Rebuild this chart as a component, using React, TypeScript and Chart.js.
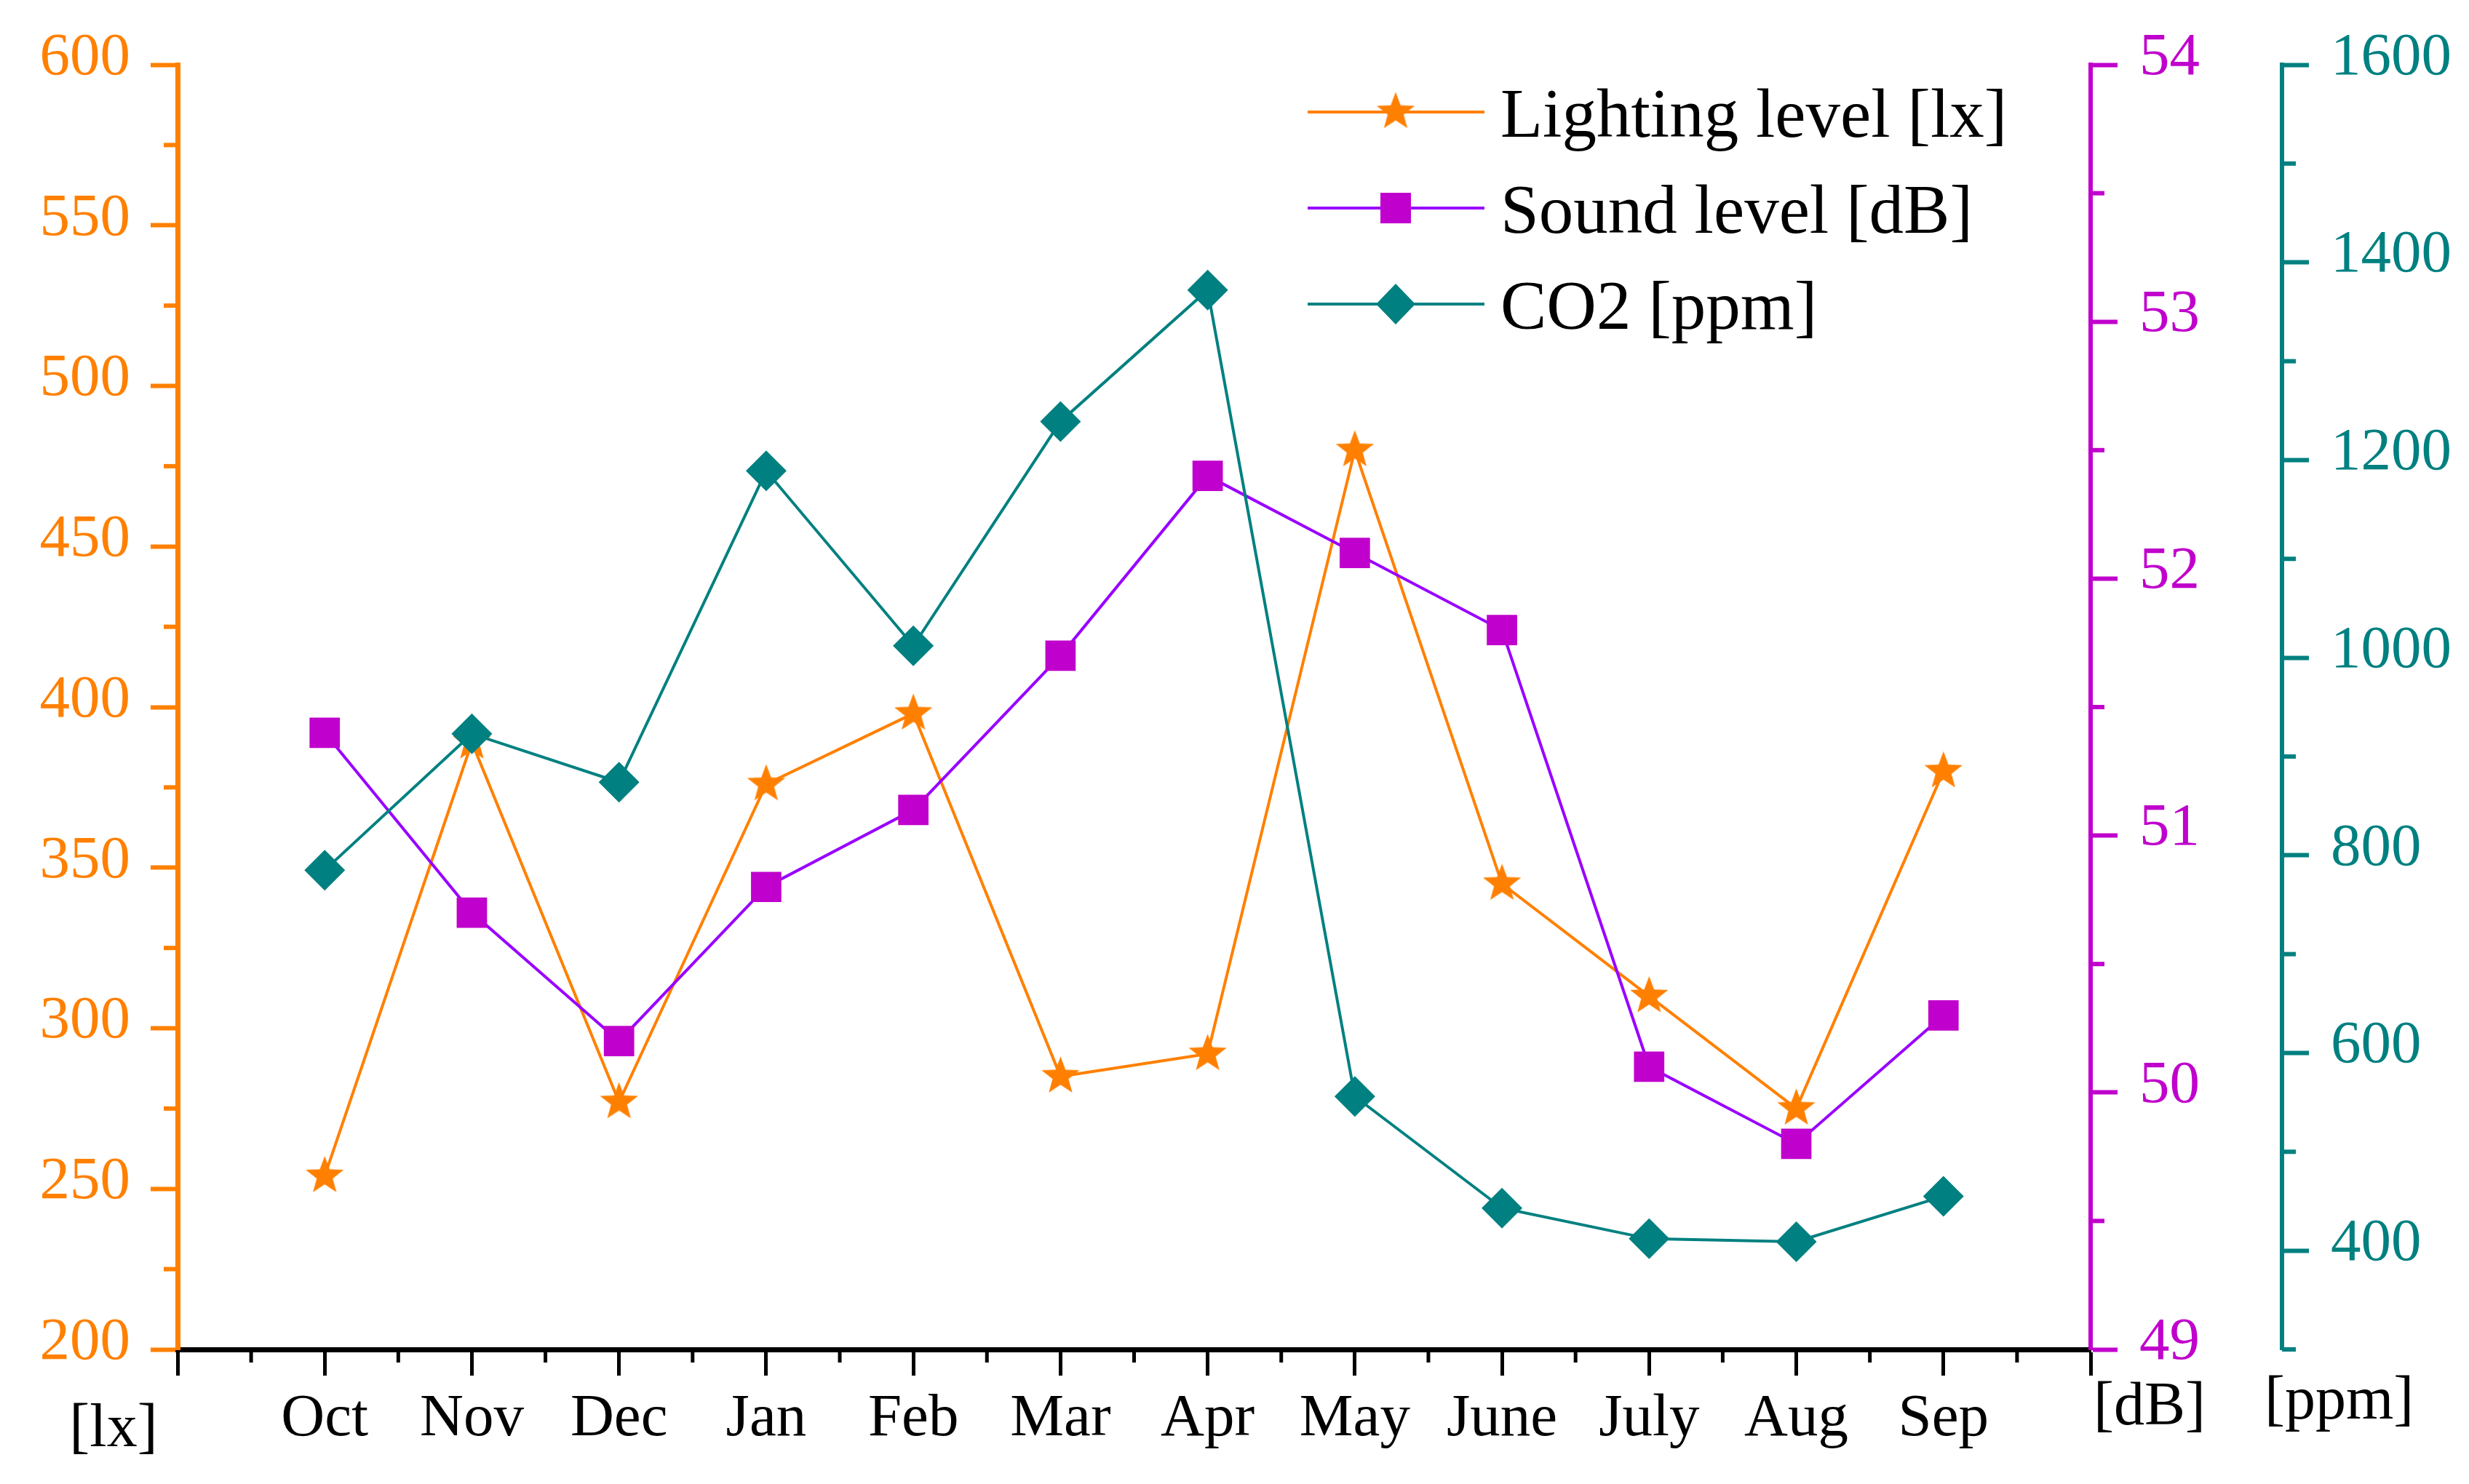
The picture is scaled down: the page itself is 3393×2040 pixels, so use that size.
import React, { useEffect, useRef } from 'react';
import { Chart, registerables } from 'chart.js';

Chart.register(...registerables);

const months = ['Oct', 'Nov', 'Dec', 'Jan', 'Feb', 'Mar', 'Apr', 'May', 'June', 'July', 'Aug', 'Sep'];
const lighting = [254, 389, 277, 376, 398, 285, 292, 480, 345, 310, 275, 380];
const sound = [51.4, 50.7, 50.2, 50.8, 51.1, 51.7, 52.4, 52.1, 51.8, 50.1, 49.8, 50.3];
const co2 = [785, 923, 874, 1189, 1012, 1239, 1372, 556, 443, 412, 409, 455];
const seriesLabels = ['Lighting level [lx]', 'Sound level [dB]', 'CO2 [ppm]'];
const unitLabels = ['[lx]', '[dB]', '[ppm]'];

const xTicks = [-1, 0, 1, 2, 3, 4, 5, 6, 7, 8, 9, 10, 11, 12];
const xMinor = [-0.5, 0.5, 1.5, 2.5, 3.5, 4.5, 5.5, 6.5, 7.5, 8.5, 9.5, 10.5, 11.5];
const lightingTicks = [200, 250, 300, 350, 400, 450, 500, 550, 600];
const lightingMinor = [225, 275, 325, 375, 425, 475, 525, 575];
const soundTicks = [49, 50, 51, 52, 53, 54];
const soundMinor = [49.5, 50.5, 51.5, 52.5, 53.5];
const co2Ticks = [400, 600, 800, 1000, 1200, 1400, 1600];
const co2Minor = [300, 500, 700, 900, 1100, 1300, 1500];

const ORANGE = '#FF8000';
const VIOLET = '#9900FF';
const MAGENTA = '#C000CC';
const TEAL = '#008080';
const FONT = "'Liberation Serif', 'Times New Roman', serif";

function makeStar(R: number, inner: number, color: string): HTMLCanvasElement {
  const size = Math.ceil(R * 2 + 4);
  const c = document.createElement('canvas');
  c.width = size;
  c.height = size;
  const ctx = c.getContext('2d')!;
  ctx.translate(size / 2, size / 2);
  ctx.beginPath();
  for (let i = 0; i < 10; i++) {
    const r = i % 2 === 0 ? R : R * inner;
    const a = -Math.PI / 2 + (i * Math.PI) / 5;
    const px = Math.cos(a) * r;
    const py = Math.sin(a) * r;
    if (i === 0) ctx.moveTo(px, py);
    else ctx.lineTo(px, py);
  }
  ctx.closePath();
  ctx.fillStyle = color;
  ctx.fill();
  return c;
}

export default function App() {
  const ref = useRef<HTMLCanvasElement | null>(null);

  useEffect(() => {
    if (!ref.current) return;
    const star = makeStar(27.5, 0.42, ORANGE);

    const extras = {
      id: 'extras',
      afterDraw(chart: any) {
        const ctx = chart.ctx as CanvasRenderingContext2D;
        const area = chart.chartArea;
        const sx = chart.scales.x;
        const sy = chart.scales.y;
        const sy1 = chart.scales.y1;
        const sy2 = chart.scales.y2;
        ctx.save();
        // minor ticks
        ctx.lineCap = 'butt';
        ctx.strokeStyle = '#000';
        ctx.lineWidth = 5;
        xMinor.forEach((v) => {
          const px = sx.getPixelForValue(v);
          ctx.beginPath();
          ctx.moveTo(px, area.bottom);
          ctx.lineTo(px, area.bottom + 18);
          ctx.stroke();
        });
        ctx.lineWidth = 6;
        ctx.strokeStyle = ORANGE;
        lightingMinor.forEach((v) => {
          const py = sy.getPixelForValue(v);
          ctx.beginPath();
          ctx.moveTo(area.left, py);
          ctx.lineTo(area.left - 19, py);
          ctx.stroke();
        });
        ctx.strokeStyle = MAGENTA;
        soundMinor.forEach((v) => {
          const py = sy1.getPixelForValue(v);
          ctx.beginPath();
          ctx.moveTo(sy1.left, py);
          ctx.lineTo(sy1.left + 19, py);
          ctx.stroke();
        });
        ctx.strokeStyle = TEAL;
        co2Minor.forEach((v) => {
          const py = sy2.getPixelForValue(v);
          ctx.beginPath();
          ctx.moveTo(sy2.left, py);
          ctx.lineTo(sy2.left + 19, py);
          ctx.stroke();
        });

        // unit labels
        ctx.fillStyle = '#000';
        ctx.font = `84px ${FONT}`;
        ctx.textBaseline = 'alphabetic';
        ctx.textAlign = 'center';
        ctx.fillText(unitLabels[0], area.left - 88, area.bottom + 133);
        ctx.textAlign = 'left';
        ctx.fillText(unitLabels[1], sy1.left + 4, area.bottom + 103);
        ctx.fillText(unitLabels[2], sy2.left - 24, area.bottom + 95);

        // legend
        const lineColors = [ORANGE, VIOLET, TEAL];
        const x0 = area.left + 1553;
        const x1 = x0 + 243;
        const xm = x0 + 121;
        ctx.font = `95px ${FONT}`;
        seriesLabels.forEach((label, i) => {
          const cy = area.top + 65 + i * 132;
          ctx.strokeStyle = lineColors[i];
          ctx.lineWidth = 4;
          ctx.beginPath();
          ctx.moveTo(x0, cy);
          ctx.lineTo(x1, cy);
          ctx.stroke();
          if (i === 0) {
            ctx.drawImage(star, xm - star.width / 2, cy - star.height / 2);
          } else if (i === 1) {
            ctx.fillStyle = MAGENTA;
            ctx.fillRect(xm - 21, cy - 21, 42, 42);
          } else {
            ctx.fillStyle = TEAL;
            ctx.beginPath();
            ctx.moveTo(xm - 27, cy);
            ctx.lineTo(xm, cy - 28);
            ctx.lineTo(xm + 27, cy);
            ctx.lineTo(xm, cy + 28);
            ctx.closePath();
            ctx.fill();
          }
          ctx.fillStyle = '#000';
          ctx.textAlign = 'left';
          ctx.fillText(label, x1 + 22, cy + 34);
        });
        ctx.restore();
      },
    };

    const tickFont = { family: FONT, size: 83 };
    const plain = (v: any) => String(v);

    const chart = new Chart(ref.current, {
      type: 'line',
      data: {
        datasets: [
          {
            label: seriesLabels[0],
            data: lighting.map((v, i) => ({ x: i, y: v })),
            yAxisID: 'y',
            borderColor: ORANGE,
            borderWidth: 4,
            pointStyle: star as any,
            pointRadius: 27,
            pointBackgroundColor: ORANGE,
            pointBorderWidth: 0,
            tension: 0,
            order: 3,
          },
          {
            label: seriesLabels[1],
            data: sound.map((v, i) => ({ x: i, y: v })),
            yAxisID: 'y1',
            borderColor: VIOLET,
            borderWidth: 4,
            pointStyle: 'rect',
            pointRadius: 29.5,
            pointBackgroundColor: MAGENTA,
            pointBorderWidth: 0,
            tension: 0,
            order: 2,
          },
          {
            label: seriesLabels[2],
            data: co2.map((v, i) => ({ x: i, y: v })),
            yAxisID: 'y2',
            borderColor: TEAL,
            borderWidth: 4,
            pointStyle: 'rectRot',
            pointRadius: 28,
            pointBackgroundColor: TEAL,
            pointBorderWidth: 0,
            tension: 0,
            order: 1,
          },
        ],
      },
      options: {
        animation: false,
        responsive: true,
        maintainAspectRatio: false,
        devicePixelRatio: 1,
        layout: { padding: { top: 89, left: 0, right: 0, bottom: 0 } },
        plugins: {
          legend: { display: false },
          tooltip: { enabled: false },
        },
        scales: {
          x: {
            type: 'linear',
            position: 'bottom',
            min: -1,
            max: 12,
            afterBuildTicks: (s: any) => {
              s.ticks = xTicks.map((v) => ({ value: v }));
            },
            afterFit: (s: any) => {
              s.height = 185;
            },
            ticks: {
              callback: (v: any) => months[v as number] ?? '',
              color: '#000',
              font: tickFont,
              padding: 10,
              autoSkip: false,
              maxRotation: 0,
            },
            grid: { drawOnChartArea: false, tickLength: 36, tickWidth: 5, tickColor: '#000' },
            border: { color: '#000', width: 7 },
          },
          y: {
            type: 'linear',
            position: 'left',
            min: 200,
            max: 600,
            afterBuildTicks: (s: any) => {
              s.ticks = lightingTicks.map((v) => ({ value: v }));
            },
            afterFit: (s: any) => {
              s.width = 244;
            },
            ticks: { color: ORANGE, font: tickFont, padding: 28, labelOffset: -9, callback: plain },
            grid: { drawOnChartArea: false, tickLength: 37, tickWidth: 6, tickColor: ORANGE },
            border: { color: ORANGE, width: 7 },
          },
          y1: {
            type: 'linear',
            position: 'right',
            weight: 0,
            min: 49,
            max: 54,
            afterBuildTicks: (s: any) => {
              s.ticks = soundTicks.map((v) => ({ value: v }));
            },
            afterFit: (s: any) => {
              s.width = 263;
            },
            ticks: { color: MAGENTA, font: tickFont, padding: 30, labelOffset: -9, callback: plain },
            grid: { drawOnChartArea: false, tickLength: 37, tickWidth: 6, tickColor: MAGENTA },
            border: { color: MAGENTA, width: 6 },
          },
          y2: {
            type: 'linear',
            position: 'right',
            weight: 1,
            min: 300,
            max: 1600,
            afterBuildTicks: (s: any) => {
              s.ticks = co2Ticks.map((v) => ({ value: v }));
            },
            afterFit: (s: any) => {
              s.width = 257;
            },
            ticks: { color: TEAL, font: tickFont, padding: 30, labelOffset: -9, callback: plain },
            grid: { drawOnChartArea: false, tickLength: 37, tickWidth: 6, tickColor: TEAL },
            border: { color: TEAL, width: 6 },
          },
        },
      } as any,
      plugins: [extras],
    });

    return () => {
      chart.destroy();
    };
  }, []);

  return (
    <div
      style={{
        position: 'fixed',
        left: 0,
        top: 0,
        width: '3393px',
        height: '2040px',
        background: '#fff',
      }}
    >
      <canvas ref={ref} />
    </div>
  );
}
